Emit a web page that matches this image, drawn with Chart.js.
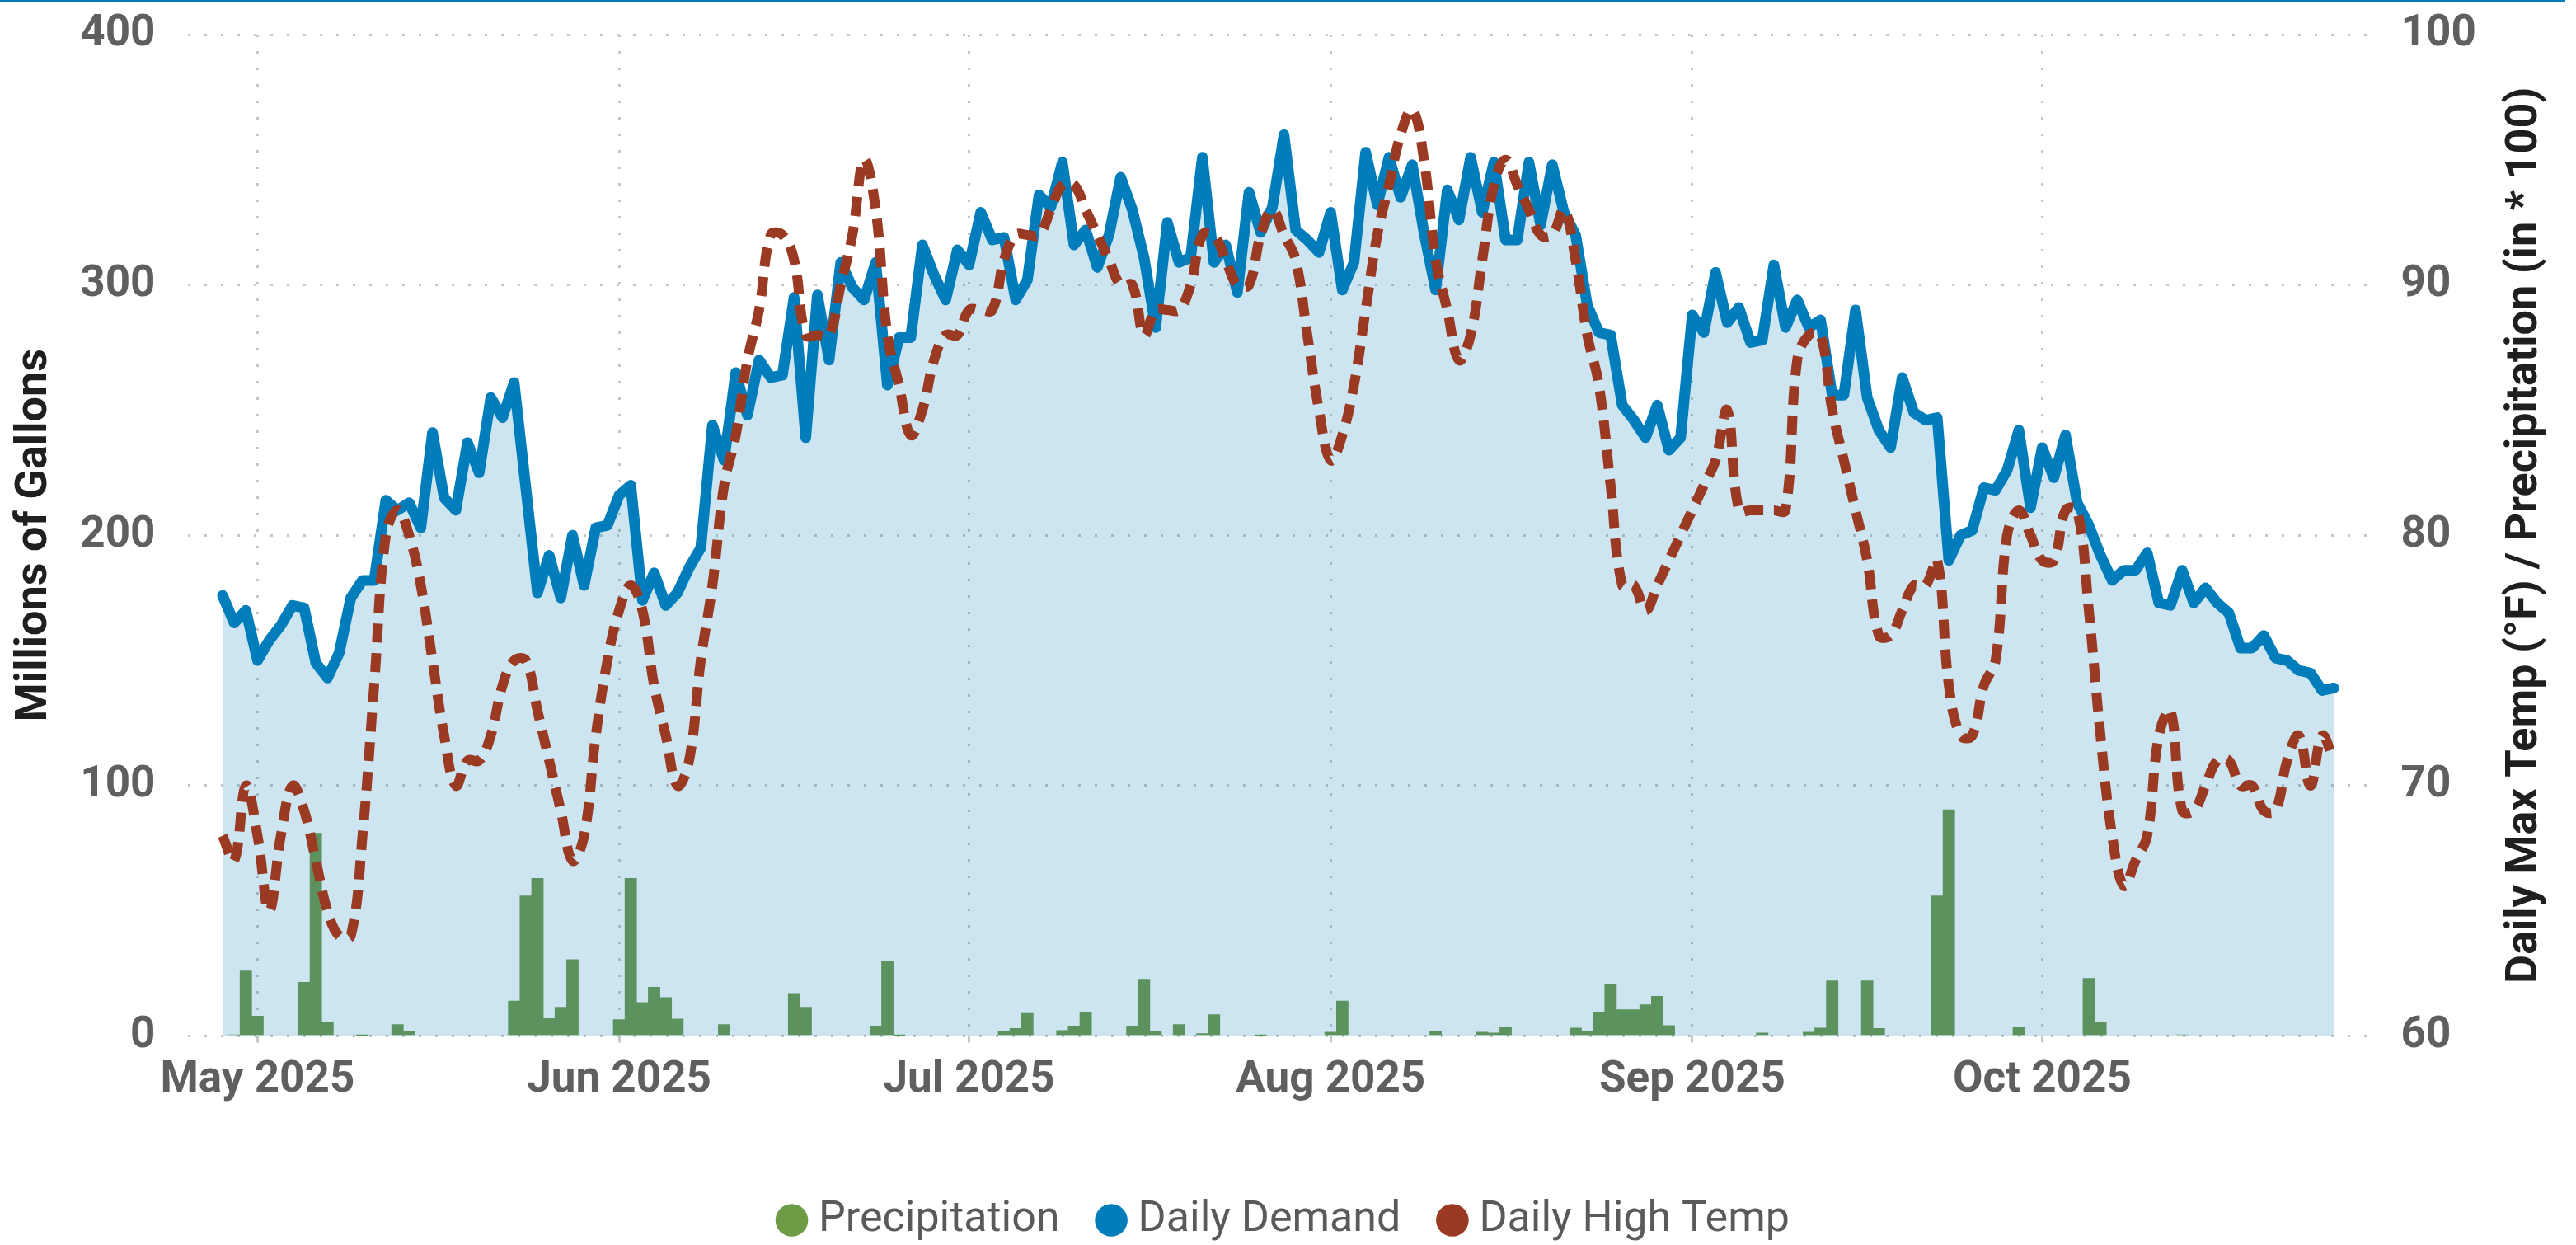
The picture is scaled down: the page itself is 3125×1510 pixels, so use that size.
<!DOCTYPE html>
<html>
<head>
<meta charset="utf-8">
<script src="https://cdn.jsdelivr.net/npm/chart.js@4.4.1/dist/chart.umd.min.js"></script>
<style>
  html, body { margin: 0; padding: 0; background: #ffffff; }
  #wrap { position: relative; width: 3125px; height: 1510px; }
  #topline { position: absolute; left: 0; top: 0; width: 3112px; height: 3px; background: #007DBA; z-index: 2; }
  canvas { display: block; }
</style>
</head>
<body>
<div id="wrap">
  <div id="topline"></div>
  <canvas id="c" width="3125" height="1510" style="width:3125px;height:1510px"></canvas>
</div>
<script>
// ---------- DATA ----------
const startDate = '2025-04-28';   // first day of the daily series

// Daily Demand (millions of gallons), one value per day from startDate
const demand = [
  176,165,170,150,158,164,172,171,149,143,
  153,175,182,182,214,210,213,203,241,215,
  210,237,225,255,247,261,219,177,192,175,
  200,180,203,204,216,220,174,185,172,177,
  187,195,244,230,265,248,270,263,264,295,
  239,296,270,309,299,294,309,260,279,279,
  316,304,294,314,308,329,318,319,294,302,
  336,331,349,316,322,307,320,343,330,311,
  283,325,309,311,351,309,316,297,337,321,
  331,360,322,318,313,329,298,309,353,332,
  351,335,348,321,298,338,326,351,329,349,
  318,318,349,324,348,329,320,292,281,280,
  252,246,239,252,234,239,288,281,305,285,
  291,277,278,308,283,294,283,286,256,256,
  290,255,242,235,263,249,246,247,190,200,
  202,219,218,226,242,211,235,223,240,213,
  204,192,182,186,186,193,173,172,186,173,
  179,173,169,155,155,160,151,150,146,145,
  138,139
];

// Daily High Temp (°F)
const highTemp = [
  68,67,70,68,65,68,70,69,67,65,
  64,64,68,74,80,81,80,78,75,72,
  70,71,71,72,74,75,75,73,71,69,
  67,68,72,75,77,78,77,74,72,70,
  71,75,78,82,84,87,89,92,92,91,
  88,88,88,90,92,95,93,88,86,84,
  85,87,88,88,89,89,89,91,92,92,
  92,93,94,94,93,92,91,90,90,88,
  89,89,89,90,92,92,91,90,90,92,
  93,92,91,88,85,83,84,86,89,92,
  94,96,97,95,91,89,87,88,91,94,
  95,94,93,92,92,93,91,88,86,82,
  78,78,77,78,79,80,81,82,83,85,
  81,81,81,81,81,87,88,88,85,83,
  81,79,76,76,77,78,78,79,74,72,
  72,74,75,80,81,80,79,79,81,81,
  77,72,68,66,67,68,72,73,69,69,
  70,71,71,70,70,69,69,71,72,70,
  72,71
];

// Precipitation (inches * 100)
const precip = [
  0,0.5,26,8,0,0,0,21.5,81,5.6,
  0,0,0.3,0,0,4.6,2,0,0,0,
  0,0,0,0,0,14,56,63,7,11.5,
  30.5,0,0,0,6.6,63,13.4,19.5,15.4,6.8,
  0,0,0,4.6,0,0,0,0,0,17,
  11.5,0,0,0,0,0,4,30,0.3,0,
  0,0,0,0,0,0,0,1.7,3,9,
  0,0,2.2,4,9.5,0,0,0,4,22.7,
  2,0,4.6,0,1,8.5,0,0,0,0.3,
  0,0,0,0,0,1.5,14,0,0,0,
  0,0,0,0,2,0,0,0,1.5,1.2,
  3.4,0,0,0,0,0,3.2,1.7,9.5,20.8,
  10.5,10.5,12.5,15.9,4.2,0,0,0,0,0,
  0,0,1.2,0,0,0,1.5,3.2,22,0,
  0,22,3,0,0,0,0,56,90.4,0,
  0,0,0,0,3.7,0,0,0,0,0,
  23,5.4,0,0,0,0,0,0,0.5,0,
  0,0,0,0,0,0,0,0,0,0,
  0,0
];

// Month ticks on the x axis
const monthTickDates  = ['2025-05-01','2025-06-01','2025-07-01','2025-08-01','2025-09-01','2025-10-01'];
const monthTickLabels = ['May 2025','Jun 2025','Jul 2025','Aug 2025','Sep 2025','Oct 2025'];

const seriesNames = ['Precipitation', 'Daily Demand', 'Daily High Temp'];
const leftTitle  = 'Millions of Gallons';
const rightTitle = 'Daily Max Temp (°F) / Precipitation (in * 100)';

// ---------- helpers ----------
const DAY = 86400000;
function dayIndex(iso) {
  const [y, m, d] = iso.split('-').map(Number);
  const [y0, m0, d0] = startDate.split('-').map(Number);
  return Math.round((Date.UTC(y, m - 1, d) - Date.UTC(y0, m0 - 1, d0)) / DAY);
}
const tickPos = monthTickDates.map(dayIndex);
const toXY = arr => arr.map((v, i) => ({ x: i, y: v }));

const COLORS = {
  bar: '#5C925E', barLegend: '#709B46',
  demand: '#007DBA', demandFill: 'rgba(0,125,186,0.2)',
  temp: '#9A3A23',
  tick: '#5f5f5f', title: '#1f1f1f', legend: '#5a5a5a', grid: '#c6c6c6'
};
const legendColors = [COLORS.barLegend, COLORS.demand, COLORS.temp];
const FONT = 'Roboto';

const rightTitlePlugin = {
  id: 'rightTitle',
  afterDraw(chart) {
    const { ctx, chartArea } = chart;
    const s = chart.scales.y1;
    ctx.save();
    ctx.font = 'bold 54px ' + FONT;
    ctx.fillStyle = COLORS.title;
    ctx.textAlign = 'center';
    ctx.textBaseline = 'middle';
    ctx.translate(s.right - 62, (chartArea.top + chartArea.bottom) / 2);
    ctx.rotate(-Math.PI / 2);
    ctx.fillText(rightTitle, 0, 0);
    ctx.restore();
  }
};

function build() {
  Chart.defaults.font.family = FONT;
  const ctx = document.getElementById('c').getContext('2d');
  new Chart(ctx, {
    type: 'line',
    data: {
      datasets: [
        {
          type: 'bar',
          label: seriesNames[0],
          data: toXY(precip),
          yAxisID: 'y',
          backgroundColor: COLORS.bar,
          borderWidth: 0,
          barPercentage: 1,
          categoryPercentage: 1,
          order: 2
        },
        {
          type: 'line',
          label: seriesNames[1],
          data: toXY(demand),
          yAxisID: 'y',
          borderColor: COLORS.demand,
          backgroundColor: COLORS.demandFill,
          borderWidth: 13,
          borderJoinStyle: 'round',
          borderCapStyle: 'round',
          fill: 'origin',
          tension: 0,
          pointRadius: 0,
          order: 3
        },
        {
          type: 'line',
          label: seriesNames[2],
          data: toXY(highTemp),
          yAxisID: 'y1',
          borderColor: COLORS.temp,
          backgroundColor: COLORS.temp,
          borderWidth: 12,
          borderDash: [23, 13],
          fill: false,
          tension: 0.4,
          pointRadius: 0,
          order: 1
        }
      ]
    },
    options: {
      responsive: false,
      animation: false,
      devicePixelRatio: 1,
      layout: { padding: { top: 42, left: 0, right: 0, bottom: -6 } },
      plugins: {
        tooltip: { enabled: false },
        legend: {
          position: 'bottom',
          labels: {
            usePointStyle: true,
            pointStyle: 'circle',
            boxWidth: 13,
            boxHeight: 28,
            padding: 56,
            color: COLORS.legend,
            font: { family: FONT, size: 52 },
            sort: (a, b) => a.datasetIndex - b.datasetIndex,
            generateLabels(chart) {
              const items = Chart.defaults.plugins.legend.labels.generateLabels(chart);
              items.forEach(it => {
                it.fillStyle = legendColors[it.datasetIndex];
                it.strokeStyle = legendColors[it.datasetIndex];
                it.lineWidth = 0;
                it.lineDash = [];
                it.pointStyle = 'circle';
              });
              return items;
            }
          }
        }
      },
      scales: {
        x: {
          type: 'linear',
          min: -3,
          max: demand.length - 1 + 3,
          offset: false,
          afterBuildTicks: s => { s.ticks = tickPos.map(v => ({ value: v })); },
          afterFit: s => { s.height = 141.5; },
          ticks: {
            autoSkip: false,
            maxRotation: 0,
            padding: 14,
            color: COLORS.tick,
            font: { family: FONT, size: 53, weight: 'bold' },
            callback: v => monthTickLabels[tickPos.indexOf(v)] || ''
          },
          grid: {
            offset: false,
            color: COLORS.grid,
            lineWidth: 3,
            drawTicks: true,
            tickLength: 8,
            tickColor: COLORS.grid,
            tickWidth: 3
          },
          border: { display: false, dash: [3, 17] }
        },
        y: {
          position: 'left',
          min: 0, max: 400,
          afterFit: s => { s.width = 227.5; s.paddingTop = 0; s.paddingBottom = 0; },
          ticks: {
            stepSize: 100,
            padding: 39,
            color: COLORS.tick,
            font: { family: FONT, size: 53, weight: 'bold' }
          },
          grid: { color: COLORS.grid, lineWidth: 3, drawTicks: false },
          border: { display: false, dash: [3, 17] },
          title: {
            display: true,
            text: leftTitle,
            color: COLORS.title,
            font: { family: FONT, size: 54, weight: 'bold' },
            padding: { top: 10, bottom: 0 }
          }
        },
        y1: {
          position: 'right',
          min: 60, max: 100,
          afterFit: s => { s.width = 251.4; s.paddingTop = 0; s.paddingBottom = 0; },
          ticks: {
            stepSize: 10,
            padding: 39,
            color: COLORS.tick,
            font: { family: FONT, size: 53, weight: 'bold' }
          },
          grid: { drawOnChartArea: false, drawTicks: false },
          border: { display: false }
        }
      }
    },
    plugins: [rightTitlePlugin]
  });
}

const fontReady = (document.fonts && document.fonts.load)
  ? Promise.all([
      document.fonts.load('bold 54px Roboto'),
      document.fonts.load('52px Roboto')
    ]).catch(() => {})
  : Promise.resolve();
Promise.race([fontReady, new Promise(r => setTimeout(r, 800))]).then(build);
</script>
</body>
</html>
